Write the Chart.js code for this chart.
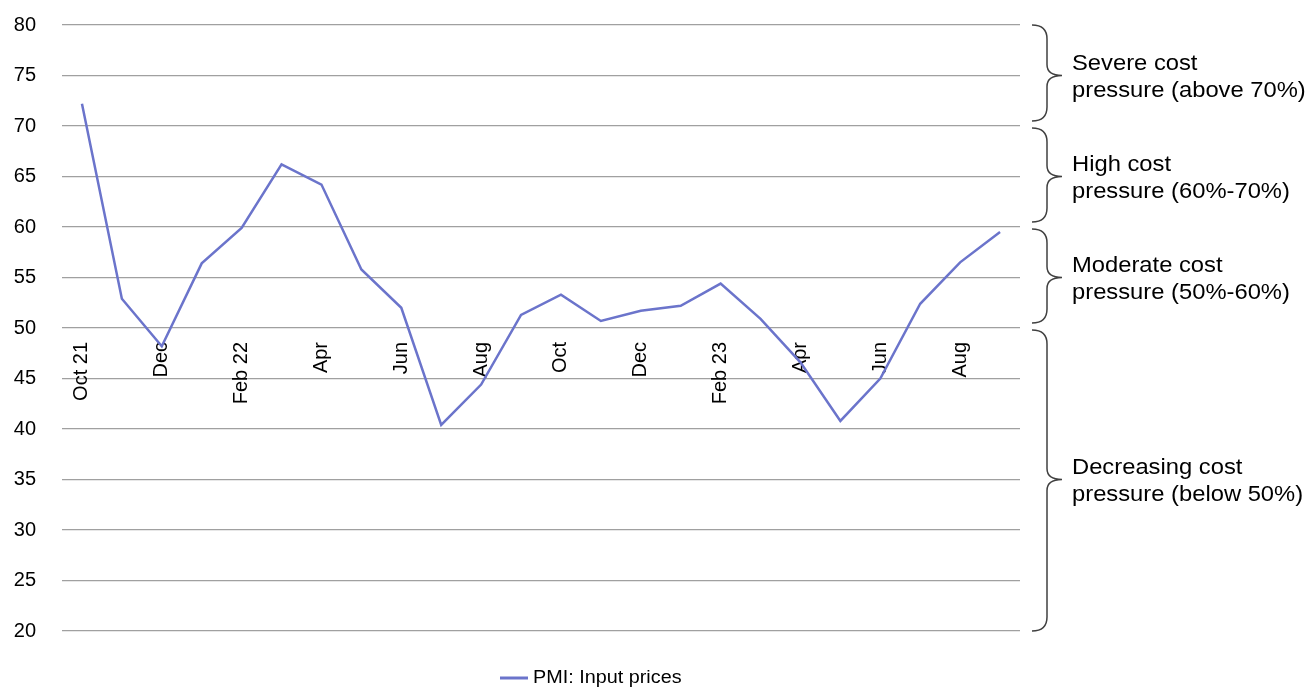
<!DOCTYPE html>
<html>
<head>
<meta charset="utf-8">
<title>PMI: Input prices</title>
<script src="https://cdn.jsdelivr.net/npm/chart.js@4/dist/chart.umd.min.js"></script>
<style>
  html, body { margin: 0; padding: 0; background: #ffffff; }
  #wrap { width: 1309px; height: 688px; }
</style>
</head>
<body>
<div id="wrap"><canvas id="pmi" width="1309" height="688"></canvas></div>
<script>
// Monthly PMI input-price index, Oct 2021 - Sep 2023
const months = ['Oct 21','Nov 21','Dec 21','Jan 22','Feb 22','Mar 22','Apr 22','May 22',
                'Jun 22','Jul 22','Aug 22','Sep 22','Oct 22','Nov 22','Dec 22','Jan 23',
                'Feb 23','Mar 23','Apr 23','May 23','Jun 23','Jul 23','Aug 23','Sep 23'];
const tickLabels = ['Oct 21','','Dec','','Feb 22','','Apr','','Jun','','Aug','',
                    'Oct','','Dec','','Feb 23','','Apr','','Jun','','Aug',''];
const inputPrices = [72.2, 52.9, 48.2, 56.4, 59.9, 66.2, 64.2, 55.8, 52.0, 40.4, 44.4, 51.3,
                     53.3, 50.7, 51.7, 52.2, 54.4, 50.9, 46.6, 40.8, 45.0, 52.4, 56.5, 59.5];
const seriesName = 'PMI: Input prices';

// Cost-pressure bands shown as braces to the right of the plot
const zoneTop = [80, 70, 60, 50];
const zoneBottom = [70, 60, 50, 20];
const zoneLine1 = ['Severe cost', 'High cost', 'Moderate cost', 'Decreasing cost'];
const zoneLine2 = ['pressure (above 70%)', 'pressure (60%-70%)', 'pressure (50%-60%)', 'pressure (below 50%)'];

const FONT = '"Liberation Sans", Arial, sans-serif';
const LINE_COLOR = '#6b74cb';

const bracesPlugin = {
  id: 'zoneBraces',
  afterDraw(chart) {
    const ctx = chart.ctx;
    const y = chart.scales.y;
    const right = chart.chartArea.right;
    const xEnd = right + 12, xMid = right + 27, xTip = right + 42;
    ctx.save();
    ctx.strokeStyle = '#404040';
    ctx.lineWidth = 1.5;
    for (let i = 0; i < zoneTop.length; i++) {
      const top = y.getPixelForValue(zoneTop[i]) + (i === 0 ? 0 : 2);
      const bot = y.getPixelForValue(zoneBottom[i]) - (zoneBottom[i] > y.min ? 5 : 0);
      const mid = y.getPixelForValue((zoneTop[i] + zoneBottom[i]) / 2);
      const r = 14, rt = 11;
      ctx.beginPath();
      ctx.moveTo(xEnd, top);
      ctx.quadraticCurveTo(xMid, top, xMid, top + r);
      ctx.lineTo(xMid, mid - rt);
      ctx.quadraticCurveTo(xMid, mid, xTip, mid);
      ctx.quadraticCurveTo(xMid, mid, xMid, mid + rt);
      ctx.lineTo(xMid, bot - r);
      ctx.quadraticCurveTo(xMid, bot, xEnd, bot);
      ctx.stroke();

      ctx.fillStyle = '#000000';
      ctx.font = '22px ' + FONT;
      ctx.textBaseline = 'alphabetic';
      ctx.textAlign = 'left';
      const tx = right + 52;
      ctx.save();
      ctx.translate(tx, 0);
      ctx.scale(1.08, 1);
      ctx.fillText(zoneLine1[i], 0, mid - 6);
      ctx.fillText(zoneLine2[i], 0, mid + 21);
      ctx.restore();
    }
    ctx.restore();
  }
};

const legendPlugin = {
  id: 'bottomKey',
  afterDraw(chart) {
    const ctx = chart.ctx;
    const ds = chart.data.datasets[0];
    const cy = 678;
    ctx.save();
    ctx.strokeStyle = ds.borderColor;
    ctx.lineWidth = 3;
    ctx.beginPath();
    ctx.moveTo(500, cy);
    ctx.lineTo(528, cy);
    ctx.stroke();
    ctx.fillStyle = '#000000';
    ctx.font = '18px ' + FONT;
    ctx.textBaseline = 'middle';
    ctx.textAlign = 'left';
    ctx.translate(533, 0);
    ctx.scale(1.1, 1);
    ctx.fillText(ds.label, 0, cy);
    ctx.restore();
  }
};

// keep axis label overhang from pushing the plot area inward
const noOverhang = (axis) => {
  axis.paddingLeft = 0;
  axis.paddingRight = 0;
  axis.paddingTop = 0;
  axis.paddingBottom = 0;
};

new Chart(document.getElementById('pmi'), {
  type: 'line',
  data: {
    labels: months,
    datasets: [{
      label: seriesName,
      data: inputPrices,
      borderColor: LINE_COLOR,
      backgroundColor: LINE_COLOR,
      borderWidth: 2.5,
      pointRadius: 0,
      pointHoverRadius: 0,
      tension: 0,
      fill: false
    }]
  },
  options: {
    responsive: false,
    animation: false,
    layout: { padding: { top: 25, left: 14, right: 289, bottom: 57 } },
    plugins: {
      legend: { display: false },
      tooltip: { enabled: false }
    },
    scales: {
      x: {
        position: { y: 50 },
        offset: true,
        afterFit: noOverhang,
        grid: { display: false, drawTicks: false },
        border: { display: false },
        ticks: {
          autoSkip: false,
          minRotation: 90,
          maxRotation: 90,
          padding: 14,
          color: '#000000',
          font: { family: FONT, size: 20 },
          callback: (value, index) => tickLabels[index]
        }
      },
      y: {
        min: 20,
        max: 80,
        afterFit: (axis) => { noOverhang(axis); axis.width = 48; },
        ticks: {
          stepSize: 5,
          padding: 26,
          color: '#000000',
          font: { family: FONT, size: 20 }
        },
        grid: { color: '#a0a0a0', lineWidth: 1.3, drawTicks: false },
        border: { display: false }
      }
    }
  },
  plugins: [bracesPlugin, legendPlugin]
});
</script>
</body>
</html>
